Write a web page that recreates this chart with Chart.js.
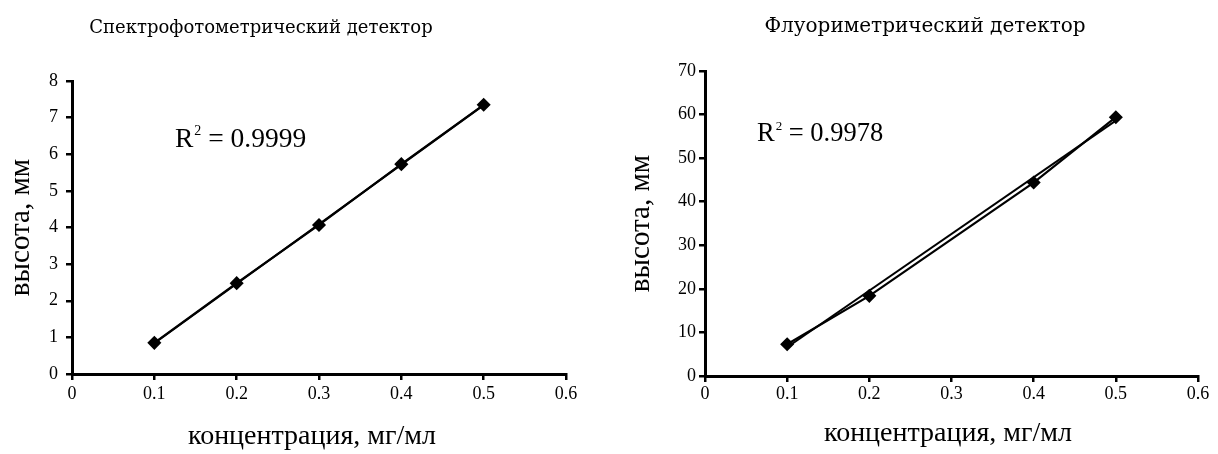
<!DOCTYPE html>
<html lang="ru">
<head>
<meta charset="utf-8">
<title>Градуировочные графики</title>
<script src="https://cdn.jsdelivr.net/npm/chart.js@4.4.1/dist/chart.umd.min.js"></script>
<style>
  html, body { margin: 0; padding: 0; background: #fff; }
  .wrap { display: flex; width: 1218px; height: 454px; }
  canvas { display: block; }
</style>
</head>
<body>
<div class="wrap">
  <canvas id="spectroChart" width="609" height="454"></canvas>
  <canvas id="fluoroChart" width="609" height="454"></canvas>
</div>
<script>
// спектрофотометрический детектор
const SPECTRO_CONC = [0.1, 0.2, 0.3, 0.4, 0.5];
const SPECTRO_HEIGHT = [0.85, 2.48, 4.07, 5.73, 7.35];
const SPECTRO_TREND_CONC = [0.1, 0.5];
const SPECTRO_TREND_HEIGHT = [0.84, 7.34];
const SPECTRO_R2 = "0.9999";

// флуориметрический детектор
const FLUORO_CONC = [0.1, 0.2, 0.4, 0.5];
const FLUORO_HEIGHT = [7.3, 18.4, 44.4, 59.4];
const FLUORO_TREND_CONC = [0.1, 0.5];
const FLUORO_TREND_HEIGHT = [6.6, 58.6];
const FLUORO_R2 = "0.9978";

const X_MAX = 0.6;
const X_STEP = 0.1;

const SERIF = "'Liberation Serif', 'Times New Roman', serif";
const TITLE_FONT = "'DejaVu Serif', Georgia, serif";

function toPoints(xs, ys) {
    return xs.map((x, i) => ({ x: x, y: ys[i] }));
}

// заголовок, R² и подпись оси X рисуем сами
const captionsPlugin = {
    id: "captions",
    afterDraw(chart, args, opts) {
        const ctx = chart.ctx;
        ctx.save();
        ctx.fillStyle = "#000";
        ctx.textBaseline = "middle";

        ctx.font = opts.titleSize + "px " + TITLE_FONT;
        ctx.textAlign = "center";
        ctx.fillText(opts.title, opts.titleX, opts.titleY);

        ctx.font = opts.xTitleSize + "px " + SERIF;
        ctx.fillText("концентрация, мг/мл", opts.xTitleX, opts.xTitleY);

        // R² = ...
        ctx.textAlign = "left";
        ctx.textBaseline = "alphabetic";
        let x = opts.r2X;
        const y = opts.r2Y;
        ctx.font = opts.r2Size + "px " + SERIF;
        ctx.fillText("R", x, y);
        x += ctx.measureText("R").width;
        ctx.font = Math.round(opts.r2Size * 0.5) + "px " + SERIF;
        ctx.fillText("2", x + 1, y - opts.r2Size * 0.42);
        x += ctx.measureText("2").width + 1;
        ctx.font = opts.r2Size + "px " + SERIF;
        ctx.fillText(" = " + opts.r2, x, y);
        ctx.restore();
    }
};

function makeChart(id, cfg) {
    const ctx = document.getElementById(id).getContext("2d");
    return new Chart(ctx, {
        type: "scatter",
        data: {
            datasets: [
                {
                    label: "тренд",
                    data: toPoints(cfg.trendX, cfg.trendY),
                    showLine: true,
                    borderColor: "#000",
                    borderWidth: 2,
                    pointRadius: 0,
                    order: 2
                },
                {
                    label: "высота",
                    data: toPoints(cfg.xs, cfg.ys),
                    showLine: true,
                    borderColor: "#000",
                    backgroundColor: "#000",
                    borderWidth: 2.2,
                    pointStyle: "rectRot",
                    pointRadius: 5.5,
                    order: 1
                }
            ]
        },
        options: {
            responsive: false,
            animation: false,
            layout: { padding: { top: cfg.top, right: cfg.right, left: 0, bottom: 0 } },
            plugins: {
                legend: { display: false },
                tooltip: { enabled: false },
                captions: cfg.captions
            },
            scales: {
                x: {
                    type: "linear",
                    min: 0,
                    max: X_MAX,
                    afterFit: s => { s.height = cfg.xHeight; },
                    ticks: {
                        stepSize: X_STEP,
                        color: "#000",
                        padding: cfg.xTickPad,
                        maxRotation: 0,
                        font: { family: SERIF, size: 18 },
                        callback: v => (v === 0 ? "0" : v.toFixed(1))
                    },
                    grid: { drawOnChartArea: false, color: "#000", lineWidth: 2.5, tickLength: 6 },
                    border: { color: "#000", width: 3 }
                },
                y: {
                    type: "linear",
                    min: 0,
                    max: cfg.yMax,
                    afterFit: s => { s.width = cfg.yWidth; },
                    ticks: {
                        stepSize: cfg.yStep,
                        color: "#000",
                        padding: cfg.yTickPad,
                        font: { family: SERIF, size: 18 }
                    },
                    grid: { drawOnChartArea: false, color: "#000", lineWidth: 2.5, tickLength: 6 },
                    border: { color: "#000", width: 3 },
                    title: {
                        display: true,
                        text: "высота, мм",
                        color: "#000",
                        font: { family: SERIF, size: 29 },
                        padding: { top: cfg.yTitlePad, bottom: 0 }
                    }
                }
            }
        },
        plugins: [captionsPlugin]
    });
}

makeChart("spectroChart", {
    xs: SPECTRO_CONC, ys: SPECTRO_HEIGHT,
    trendX: SPECTRO_TREND_CONC, trendY: SPECTRO_TREND_HEIGHT,
    yMax: 8, yStep: 1,
    top: 81, right: 43, yWidth: 72, xHeight: 80,
    xTickPad: 3, yTickPad: 8, yTitlePad: 4,
    captions: {
        title: "Спектрофотометрический детектор", titleX: 261, titleY: 28, titleSize: 18,
        xTitleX: 312, xTitleY: 437, xTitleSize: 28,
        r2: SPECTRO_R2, r2X: 175, r2Y: 147, r2Size: 27.5
    }
});

makeChart("fluoroChart", {
    xs: FLUORO_CONC, ys: FLUORO_HEIGHT,
    trendX: FLUORO_TREND_CONC, trendY: FLUORO_TREND_HEIGHT,
    yMax: 70, yStep: 10,
    top: 71, right: 20, yWidth: 96, xHeight: 78,
    xTickPad: 1, yTickPad: 3, yTitlePad: 15,
    captions: {
        title: "Флуориметрический детектор", titleX: 316, titleY: 27, titleSize: 20,
        xTitleX: 339, xTitleY: 434, xTitleSize: 28,
        r2: FLUORO_R2, r2X: 148, r2Y: 141, r2Size: 26.5
    }
});
</script>
</body>
</html>
